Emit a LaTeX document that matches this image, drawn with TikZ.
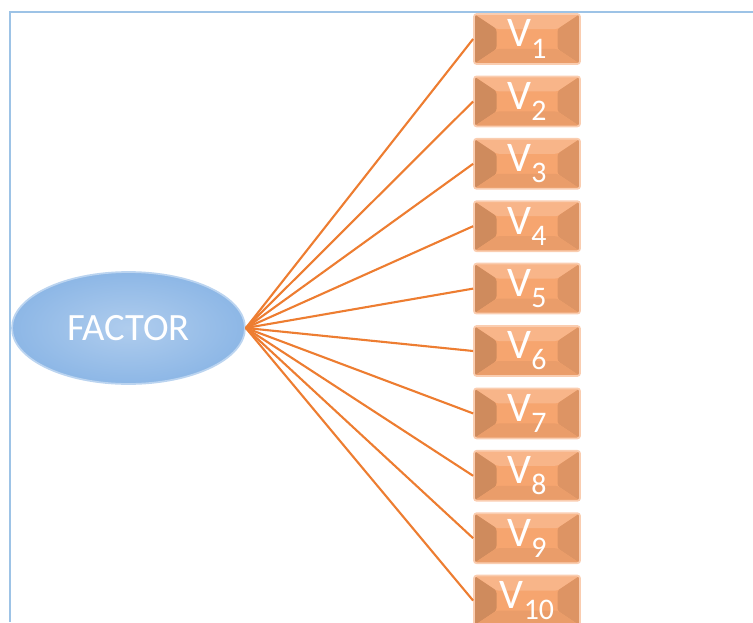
\documentclass[tikz,border=0pt]{standalone}
\usepackage{fontspec}
\setmainfont{Carlito}
\usetikzlibrary{shapes.geometric}
\definecolor{framebl}{HTML}{9DC3E6}
\definecolor{factbl}{HTML}{8DB7E6}
\definecolor{varor}{HTML}{F6A56F}
\definecolor{linkor}{HTML}{ED7D31}

\begin{document}
\begin{tikzpicture}[x=0.02cm,y=-0.02cm]
        \tikzset{factor/.style={ellipse,draw=factbl!60!white,line width=1pt,inner color=factbl!70!white,outer color=factbl,minimum width=4.66cm,minimum height=2.24cm,text=white,font=\fontsize{22}{24}\selectfont},
            var/.style={draw=varor!55!white,line width=1pt,rounded corners=1.5pt,fill=varor,minimum width=2.12cm,minimum height=1cm,inner sep=0pt,text=white,font=\fontsize{24}{26}\selectfont,
                path picture={
                    \coordinate (bnw) at (path picture bounding box.north west);
                    \coordinate (bse) at (path picture bounding box.south east);
                    \coordinate (bne) at (path picture bounding box.north east);
                    \coordinate (bsw) at (path picture bounding box.south west);
                    \fill[white!18!varor] (bnw) -- ([shift={(0.45cm,-0.3cm)}]bnw) -- ([shift={(-0.45cm,-0.3cm)}]bne) -- (bne) -- cycle;
                    \fill[black!16!varor] (bnw) -- ([shift={(0.45cm,-0.3cm)}]bnw) -- ([shift={(0.45cm,0.3cm)}]bsw) -- (bsw) -- cycle;
                    \fill[black!10!varor] (bne) -- ([shift={(-0.45cm,-0.3cm)}]bne) -- ([shift={(-0.45cm,0.3cm)}]bse) -- (bse) -- cycle;
                    \fill[black!5!varor] (bsw) -- ([shift={(0.45cm,0.3cm)}]bsw) -- ([shift={(-0.45cm,0.3cm)}]bse) -- (bse) -- cycle;}},
            link/.style={draw=linkor,line width=1.2pt}}
        \useasboundingbox (0,0) rectangle (753,622);
        \draw[framebl,line width=1.2pt] (753,12) -- (10,12) -- (10,622);
        \node[factor](F) at (128.5,328) {FACTOR};
        \foreach \i in {1,...,10}{
            \node[var](v\i) at (527,{39+62.4*(\i-1)}) {V\raisebox{-0.55ex}{\fontsize{17}{18}\selectfont\i}};
            \draw[link] (F.east) -- (v\i.west);
        }
    \end{tikzpicture}
\end{document}
